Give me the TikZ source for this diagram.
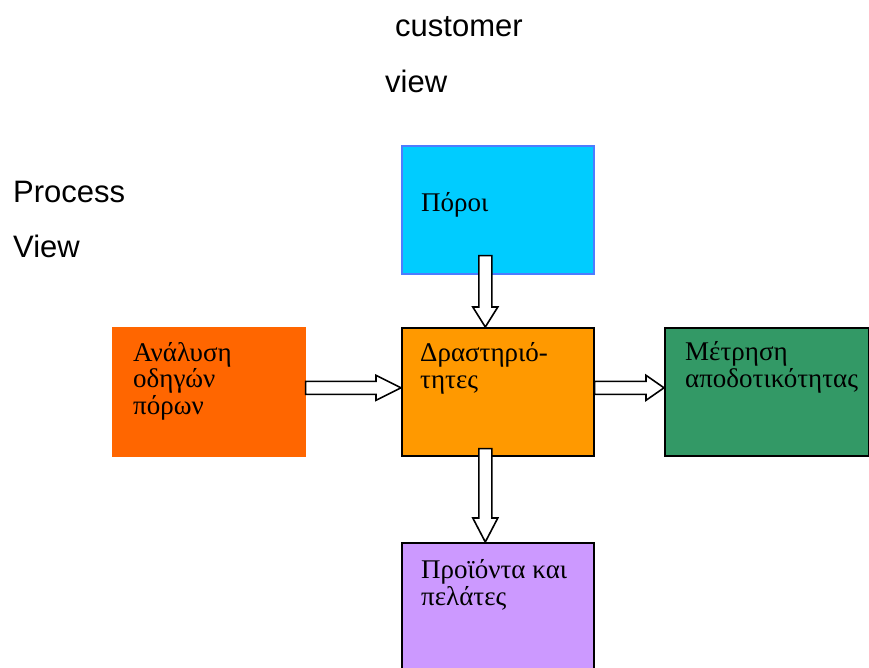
\documentclass[tikz,border=0pt]{standalone}
\usepackage{fontspec}
\setmainfont{Liberation Serif}
\setsansfont{Liberation Sans}
\usetikzlibrary{calc}

\definecolor{resblue}{HTML}{00CCFF}
\definecolor{resedge}{HTML}{4D7CFF}
\definecolor{actorange}{HTML}{FF9900}
\definecolor{drvorange}{HTML}{FF6600}
\definecolor{perfgreen}{HTML}{339966}
\definecolor{prodlilac}{HTML}{CC99FF}

% vertical block arrow: #1 = top of shaft, #2 = tip, #3 = head length
\newcommand\vblockarrow[3]{%
  \draw[blockarrow] ($(#1)+(-6.5,0)$) -- ($(#2)+(-6.5,-#3)$) -- ($(#2)+(-12.5,-#3)$)
    -- (#2) -- ($(#2)+(12.5,-#3)$) -- ($(#2)+(6.5,-#3)$) -- ($(#1)+(6.5,0)$) -- cycle;}
% horizontal block arrow: #1 = tail of shaft, #2 = tip, #3 = head length
\newcommand\hblockarrow[3]{%
  \draw[blockarrow] ($(#1)+(0,-6.5)$) -- ($(#2)+(-#3,-6.5)$) -- ($(#2)+(-#3,-12.5)$)
    -- (#2) -- ($(#2)+(-#3,12.5)$) -- ($(#2)+(-#3,6.5)$) -- ($(#1)+(0,6.5)$) -- cycle;}

\begin{document}
\begin{tikzpicture}[x=1pt,y=-1pt,
  box/.style={draw, line width=1.6pt, minimum width=192pt, minimum height=128pt,
    inner sep=0pt, anchor=north west},
  blockarrow/.style={draw=black, fill=white, line width=1.6pt, line join=miter},
  viewtxt/.style={font=\sffamily\fontsize{31}{31}\selectfont, anchor=base west, inner sep=0pt},
  boxtxt/.style={font=\fontsize{27}{26.5}\selectfont, anchor=base west, inner sep=0pt, align=left},
]
\useasboundingbox (0,0) rectangle (869,667);

% headings
\node[viewtxt] (cust) at (395,36) {customer};
\node[viewtxt] (custv) at (385,92) {view};
\node[viewtxt] (proc) at (13,202) {Process};
\node[viewtxt] (procv) at (13,257) {View};

% boxes
\node[box, fill=resblue, draw=resedge] (poroi) at (401,145) {};
\node[box, fill=actorange] (drast) at (401,327) {};
\node[box, fill=drvorange, draw=drvorange] (anal) at (112,327) {};
\node[box, fill=perfgreen, minimum width=204pt] (metr) at (664,327) {};
\node[box, fill=prodlilac, minimum height=140pt] (proi) at (401,542) {};

% box texts (placed by the baseline of their last line)
\node[boxtxt] (poroit) at (421,211) {Πόροι};
\node[boxtxt] (drastt) at (420,388) {Δραστηριό-\\τητες};
\node[boxtxt] (analt) at (133,414) {Ανάλυση\\οδηγών\\πόρων};
\node[boxtxt] (metrt) at (685,387) {Μέτρηση\\αποδοτικότητας};
\node[boxtxt] (proit) at (421,605) {Προϊόντα και\\πελάτες};

% connector ends
\coordinate (a1s) at ($(poroi.south)+(-12.5,-19)$);
\coordinate (a1t) at ($(drast.north)+(-12.5,0)$);
\coordinate (a2s) at ($(drast.south)+(-12.5,-8)$);
\coordinate (a2t) at ($(proi.north)+(-12.5,0)$);
\coordinate (a3s) at ($(anal.east)+(0,-4)$);
\coordinate (a3t) at ($(drast.west)+(0,-4)$);
\coordinate (a4s) at ($(drast.east)+(0,-4)$);
\coordinate (a4t) at ($(metr.west)+(0,-4)$);

% block arrows
\vblockarrow{a1s}{a1t}{20}
\vblockarrow{a2s}{a2t}{24}
\hblockarrow{a3s}{a3t}{25}
\hblockarrow{a4s}{a4t}{18}
\end{tikzpicture}
\end{document}
